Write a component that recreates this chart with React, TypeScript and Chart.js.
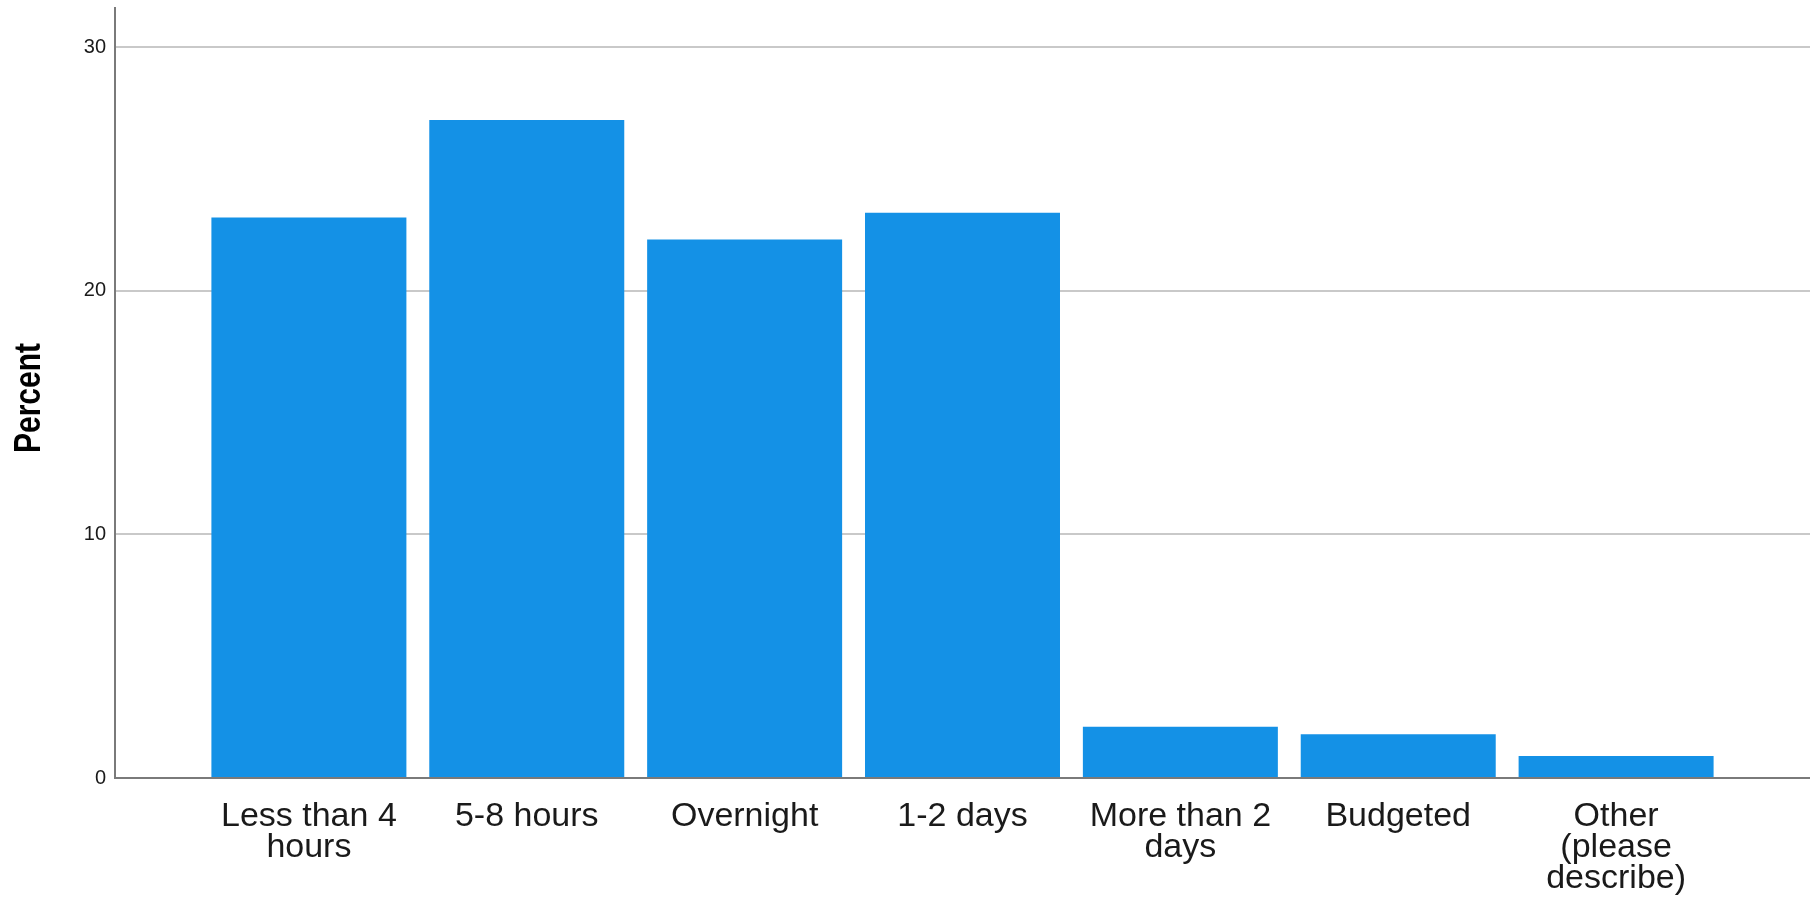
import React, { useEffect, useRef } from "react";
import { Chart, registerables } from "chart.js";

Chart.register(...registerables);

const categories: string[][] = [
  ["Less than 4", "hours"],
  ["5-8 hours"],
  ["Overnight"],
  ["1-2 days"],
  ["More than 2", "days"],
  ["Budgeted"],
  ["Other", "(please", "describe)"],
];
const percentValues: number[] = [23.0, 27.0, 22.1, 23.2, 2.1, 1.8, 0.9];
const yTickValues: number[] = [0, 10, 20, 30];
const yAxisTitle = "Percent";

const yTitlePlugin = {
  id: "yTitleTall",
  afterDraw(chart: any) {
    const ctx = chart.ctx;
    const area = chart.chartArea;
    const cy = (area.top + area.bottom) / 2 + 5;
    ctx.save();
    ctx.translate(30, cy);
    ctx.rotate(-Math.PI / 2);
    ctx.scale(1, 1.22);
    ctx.font = "bold 30px 'Liberation Sans', Arial, sans-serif";
    ctx.fillStyle = "#000";
    ctx.textAlign = "center";
    ctx.textBaseline = "middle";
    ctx.fillText(yAxisTitle, 0, 0);
    ctx.restore();
  },
};

export default function App() {
  const ref = useRef<HTMLCanvasElement | null>(null);

  useEffect(() => {
    document.body.style.margin = "0";
    const canvas = ref.current;
    if (!canvas) return;
    const chart = new Chart(canvas, {
      type: "bar",
      data: {
        datasets: [
          {
            label: yAxisTitle,
            data: percentValues.map((v, i) => ({ x: i, y: v })),
            backgroundColor: "#1491e6",
            borderWidth: 0,
            categoryPercentage: 1,
            barPercentage: 0.895,
          },
        ],
      },
      options: {
        responsive: false,
        animation: false,
        layout: { padding: { top: 8, left: 0, right: 0, bottom: 0 } },
        plugins: {
          legend: { display: false },
          tooltip: { enabled: false },
          title: { display: false },
        },
        scales: {
          x: {
            type: "linear",
            offset: false,
            min: -0.89,
            max: 6.89,
            afterBuildTicks: (scale: any) => {
              scale.ticks = categories.map((_, i) => ({ value: i }));
            },
            afterFit: (scale: any) => {
              scale.height = 119;
              scale.paddingLeft = 0;
              scale.paddingRight = 0;
            },
            grid: { display: false, drawTicks: false, offset: false },
            border: { display: true, color: "#7a7a7a", width: 2 },
            ticks: {
              autoSkip: false,
              maxRotation: 0,
              minRotation: 0,
              padding: 23,
              color: "#1a1a1a",
              font: { family: "'Liberation Sans', Arial, sans-serif", size: 34, lineHeight: "31px" },
              callback: (v: any) => categories[Math.round(Number(v))] ?? "",
            },
          },
          y: {
            type: "linear",
            min: 0,
            max: 31.6,
            afterBuildTicks: (scale: any) => {
              scale.ticks = yTickValues.map((v) => ({ value: v }));
            },
            afterFit: (scale: any) => {
              scale.width = 115;
              scale.paddingTop = 0;
              scale.paddingBottom = 0;
            },
            grid: { display: true, color: "#c9c9c9", lineWidth: 2, drawTicks: false },
            border: { display: true, color: "#7a7a7a", width: 2 },
            ticks: {
              padding: 9,
              color: "#1a1a1a",
              font: { family: "'Liberation Sans', Arial, sans-serif", size: 20 },
            },
            title: { display: false },
          },
        },
      },
      plugins: [yTitlePlugin],
    });
    return () => chart.destroy();
  }, []);

  return (
    <div style={{ width: 1810, height: 897, background: "#fff" }}>
      <canvas ref={ref} width={1810} height={897} style={{ display: "block" }} />
    </div>
  );
}
